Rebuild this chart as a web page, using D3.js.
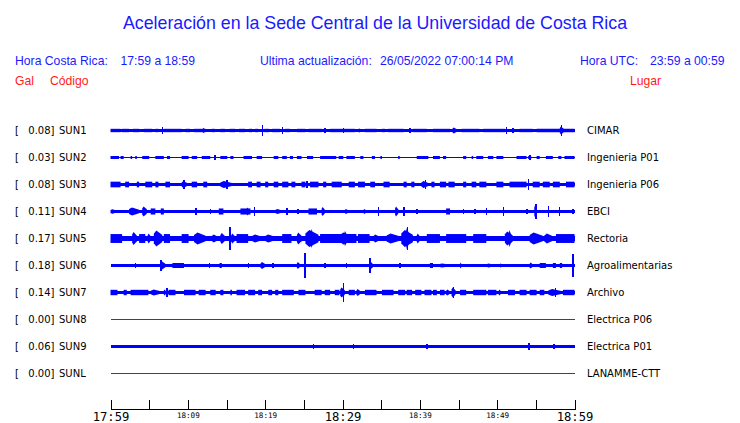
<!DOCTYPE html>
<html><head><meta charset="utf-8">
<script src="https://cdn.jsdelivr.net/npm/d3@7"></script>
<style>
html,body{margin:0;padding:0;background:#fff;}
svg{display:block;}
</style>
</head><body>
<svg id="chart" width="740" height="423"></svg>
<script>
// ---------- DATA ----------
const codes  = ["SUN1","SUN2","SUN3","SUN4","SUN5","SUN6","SUN7","SUN8","SUN9","SUNL"];
const places = ["CIMAR","Ingenieria P01","Ingenieria P06","EBCI","Rectoria","Agroalimentarias","Archivo","Electrica P06","Electrica P01","LANAMME-CTT"];
const peakGal = [0.08,0.03,0.08,0.11,0.17,0.18,0.14,0.00,0.06,0.00];
// background noise level (half amplitude, gal) and typical burst level
const baseGal  = [0.015,0.006,0.028,0.027,0.044,0.025,0.024,0,0.024,0];
const blockGal = [0.025,0.022,0.042,0.045,0.066,0.037,0.040,0,0.030,0];

// bursts: [start minute, end minute, half amplitude gal (optional)]
const sun1Bursts = [[0,1.3],[1.5,2.4],[2.9,3.7],[4.3,5.4],[5.8,6.2],[6.9,9.2],[9.7,10.3],[10.8,12.3],[11.9,12.3,0.037],[13.1,13.5],[14.2,14.8],[15.4,16.1],[16.6,17.4],[17.9,18.3],[18.7,19.1],[19.9,20.5],[20.9,21.9],[22.6,23.2],[24.1,25.2],[25.6,27.3],[28.4,31.6],[32,32.5,0.03],[32.9,34.4],[35.1,35.5],[35.9,37.9],[39.1,40.9],[41.7,43.9],[44.2,44.8,0.044],[45.4,47.7],[48.2,51],[52.9,54.6],[55.1,60],[58.1,58.6,0.06]];
const sun2Bursts = [[0,1.1],[1.3,1.7],[2.6,2.8],[3.2,3.4],[4.1,5],[5.8,6.9],[7.3,7.7],[9.2,10.1],[10.5,11.2],[11.8,12.9],[14.2,15.1],[15.5,15.9],[17.2,18.3],[18.9,19.6],[21.1,21.7],[22.2,22.8],[23.2,23.6],[24.1,24.7],[25.4,26.2],[27.1,29.2],[29.5,30.1],[30.5,31.6],[32.3,32.7],[33.8,34.2],[34.9,35.1],[37.2,37.4],[39.6,41.1],[41.7,42.6],[43,43.4],[45.6,46],[46.7,46.9],[47.3,48.2],[48.8,49.5],[49.9,50.8],[52.5,53.8],[54,54.4],[55.1,55.5],[56.3,57.2],[57.9,58.3],[58.7,60]];
const sun3Bursts = [[0,1.3],[1.9,2.4],[3.4,3.7],[4.5,5.4],[5.8,6.2],[7.1,7.7],[9.2,9.9,0.052],[10.5,11.2],[12,12.5],[14.2,15.7,0.052],[17.8,18.3],[18.9,19.4],[20,20.4],[21.1,21.7],[22.2,23],[23.4,23.9],[24.7,25.2],[25.8,26.9],[27.5,27.9],[28.6,29.9],[30.8,31.6],[32,32.9],[33.6,34.2],[35.3,36.1],[37.9,38.3],[38.9,39.3],[40.2,41.1,0.052],[41.5,41.9],[42.6,43.4],[43.7,44.5],[45.6,46],[46.7,47.3],[47.7,48.6],[49.9,50.8],[51.6,53.8],[54.6,55.5],[55.9,56.8],[57.2,58.1],[58.9,60]];
const sun4Bursts = [[0,0.8,0.035],[2.4,3.7,0.06],[4.1,4.7,0.075],[5.2,5.8],[6.5,6.9],[14,14.6],[16.8,18.1],[17.6,17.9,0.06],[21.3,22.2,0.037],[25.6,26.7],[27.3,27.7,0.067],[30.3,30.8,0.037],[32.7,33.1,0.037],[36.8,37.2,0.075],[43.4,43.9],[54.8,55.1,0.09]];
const sun5Bursts = [[0,1.5],[2.8,3.4,0.096],[3.7,4.5],[4.8,5.2,0.074],[5.6,6.7,0.118],[6.9,7.7],[9.2,10.1],[10.8,12.3,0.089],[13.1,13.9,0.06],[14.2,14.8,0.082],[15.6,16.1,0.074],[16.3,17.8],[18.3,19.6,0.06],[20,21.3,0.06],[22.2,23.4],[24.1,24.7,0.089],[25.2,26.9,0.126],[25.9,26.2,0.14],[27.1,31.8],[29.7,31,0.089],[30.2,30.6,0.11],[32,33.5],[34,34.8,0.06],[35.7,37.4,0.074],[37.6,39.1,0.126],[38.2,38.6,0.16],[39.6,40,0.074],[40.9,42.6],[43.4,46],[46.9,48.6],[51,52,0.104],[51.5,51.8,0.126],[54.2,55.9,0.089],[56.1,57.2,0.074],[57.6,60]];
const sun6Bursts = [[6.5,7.1,0.06],[8,9.5],[14.1,14.4],[19.4,20,0.052],[24.1,24.5,0.052],[33.5,33.9,0.06],[41.3,41.7],[42.4,43.9,0.03],[45.2,45.4,0.045],[48.6,49.5,0.03],[50.3,50.7,0.03],[54.2,54.6,0.045],[55.5,56.3],[57.2,57.6],[58.1,58.4]];
const sun7Bursts = [[0,0.9],[1.7,2.1],[2.6,4.9],[5.2,6.5,0.045],[6.9,7.1],[7.5,8.4],[9.5,11],[11.4,12.3],[12.9,13.6],[14.2,14.6],[15.5,15.7],[16.3,17.4],[17.8,18.7],[19.1,19.6],[20.4,20.9],[21.3,21.7],[22.2,23.7],[24.3,25.2],[26.4,27.3],[27.7,28.4],[29,29.6],[29.7,30.3,0.074],[30.8,31.6],[31.8,32.3,0.052],[32.9,34.4],[35.1,36.6],[37.2,38.1],[38.3,39],[39.4,40.2],[40.6,41.5],[41.7,42.2],[42.6,43.2],[43.4,43.9,0.045],[44.1,44.6,0.075],[45.2,46],[46.9,48.6],[48.8,49.9],[50.2,50.5,0.045],[51.4,52.3],[52.9,53.8],[54.2,55.1],[55.5,56.1],[56.6,58.3,0.052],[58.5,60]];
const sun8Bursts = [];
const sun9Bursts = [];
const sunLBursts = [];

// single spikes: [minute, half amplitude gal]
const sun1Spikes = [[6.7,0.049],[19.6,0.08],[22.2,0.049],[27.7,0.037],[30.1,0.044],[38.7,0.044],[51.2,0.049],[52,0.037],[58.3,0.08]];
const sun2Spikes = [[13.5,0.03],[54.2,0.03]];
const sun3Spikes = [[9.5,0.06],[15,0.065],[25.4,0.055],[40.7,0.06],[54,0.08]];
const sun4Spikes = [[11,0.052],[12.9,0.037],[18.6,0.074],[22.8,0.045],[24.2,0.037],[34.6,0.06],[37.9,0.06],[39.6,0.037],[45.6,0.037],[47.1,0.037],[48.6,0.045],[50.8,0.06],[53.8,0.037],[55,0.11],[56.6,0.075],[58,0.06],[59.8,0.037]];
const sun5Spikes = [[15.4,0.17],[38.4,0.17]];
const sun6Spikes = [[3.2,0.037],[6.5,0.086],[12.8,0.037],[17.8,0.03],[21,0.037],[25.1,0.178],[27.7,0.037],[30.5,0.03],[33.5,0.11],[37.4,0.037],[59.8,0.17]];
const sun7Spikes = [[7.3,0.06],[30.1,0.14],[44.3,0.082],[57.5,0.06]];
const sun8Spikes = [];
const sun9Spikes = [[26.2,0.03],[31.4,0.03],[40.9,0.04],[54.1,0.045],[57.3,0.03]];
const sunLSpikes = [];

const tickMinutes = [0,5,10,15,20,25,30,35,40,45,50,55,60];
const tickLabels  = ["17:59","18:09","18:19","18:29","18:39","18:49","18:59"];
const majorLabels = ["17:59","18:29","18:59"];

// ---------- CHART ----------
const bursts = [sun1Bursts,sun2Bursts,sun3Bursts,sun4Bursts,sun5Bursts,sun6Bursts,sun7Bursts,sun8Bursts,sun9Bursts,sunLBursts];
const spikes = [sun1Spikes,sun2Spikes,sun3Spikes,sun4Spikes,sun5Spikes,sun6Spikes,sun7Spikes,sun8Spikes,sun9Spikes,sunLSpikes];

const svg = d3.select("#chart");
const BLUE = "#0000ff", TXTBLUE = "#1a1aff", RED = "#ff1a1a";

const x = d3.scaleLinear().domain([0,60]).range([110.5,574.5]);
const row = d3.scaleBand().domain(codes).range([117,387]);
const amp = d3.scaleLinear().domain([0,0.2]).range([0,13.5]);
const yc = c => row(c) + row.bandwidth()/2;

// title + header
svg.append("text").attr("x",375).attr("y",29).attr("text-anchor","middle")
  .attr("font-family","Liberation Sans, Arial, sans-serif").attr("font-size",17.8)
  .attr("fill",TXTBLUE).text("Aceleración en la Sede Central de la Universidad de Costa Rica");

const hdr = [
  {t:"Hora Costa Rica:",x:15,y:65,c:TXTBLUE},
  {t:"17:59 a 18:59",x:120.5,y:65,c:TXTBLUE},
  {t:"Ultima actualización:",x:260,y:65,c:TXTBLUE},
  {t:"26/05/2022 07:00:14 PM",x:380,y:65,c:TXTBLUE},
  {t:"Hora UTC:",x:580,y:65,c:TXTBLUE},
  {t:"23:59 a 00:59",x:650,y:65,c:TXTBLUE},
  {t:"Gal",x:15,y:85,c:RED},
  {t:"Código",x:50,y:85,c:RED},
  {t:"Lugar",x:630,y:85,c:RED}
];
svg.selectAll("text.hdr").data(hdr).join("text").attr("class","hdr")
  .attr("x",d=>d.x).attr("y",d=>d.y).attr("fill",d=>d.c)
  .attr("font-family","Liberation Sans, Arial, sans-serif").attr("font-size",12.2)
  .text(d=>d.t);

// row labels
const lab = svg.append("g").attr("font-family","DejaVu Sans, sans-serif").attr("font-size",10).attr("fill","#000");
codes.forEach((c,i)=>{
  const y = yc(c)+3.6;
  lab.append("text").attr("x",15).attr("y",y).text("[");
  lab.append("text").attr("x",54.5).attr("y",y).attr("text-anchor","end").text(d3.format(".2f")(peakGal[i])+"]");
  lab.append("text").attr("x",59).attr("y",y).text(c);
  lab.append("text").attr("x",587).attr("y",y).text(places[i]);
});

// burst outline: sharp onset, peak, then decay (seismic envelope)
function burstPath(d, cy, defAmp){
  const a = amp(d[2]!==undefined?d[2]:defAmp);
  const x0 = x(d[0]), x1 = Math.max(x(d[1]), x0+1);
  if (d[2]===undefined) {
    return `M${x0},${cy-a}H${x1}V${cy+a}H${x0}Z`;
  }
  const xp = x0 + (x1-x0)*0.3;
  const ae = Math.max(a*0.45, 1);
  return `M${x0},${cy-a*0.6}L${xp},${cy-a}L${x1},${cy-ae}V${cy+ae}L${xp},${cy+a}L${x0},${cy+a*0.6}Z`;
}

// traces
const tr = svg.append("g");
codes.forEach((c,i)=>{
  const cy = yc(c);
  const g = tr.append("g");
  if (peakGal[i] === 0) {
    g.append("line").attr("x1",x(0)).attr("x2",x(60)).attr("y1",cy).attr("y2",cy)
      .attr("stroke","#e00000").attr("stroke-width",1).attr("shape-rendering","crispEdges");
    return;
  }
  g.append("rect").attr("x",x(0)).attr("width",x(60)-x(0)).attr("shape-rendering","crispEdges")
    .attr("y",cy-Math.max(0.5,amp(baseGal[i]))).attr("height",Math.max(1,2*amp(baseGal[i]))).attr("fill",BLUE);
  g.selectAll("path.b").data(bursts[i]).join("path").attr("class","b")
    .attr("d",d=>burstPath(d,cy,blockGal[i])).attr("fill",BLUE);
  g.selectAll("rect.s").data(spikes[i]).join("rect").attr("class","s").attr("shape-rendering","crispEdges")
    .attr("x",d=>x(d[0])-0.5).attr("width",1.5)
    .attr("y",d=>cy-amp(d[1])).attr("height",d=>2*amp(d[1])).attr("fill",BLUE);
});

// time axis
const ax = svg.append("g").attr("shape-rendering","crispEdges");
ax.append("line").attr("x1",x(0)).attr("x2",x(60)+0.5).attr("y1",409.5).attr("y2",409.5).attr("stroke","#000");
ax.selectAll("line.t").data(tickMinutes).join("line").attr("class","t")
  .attr("x1",d=>Math.round(x(d))+0.5).attr("x2",d=>Math.round(x(d))+0.5)
  .attr("y1",400).attr("y2",409.5).attr("stroke","#000");
svg.selectAll("text.tl").data(tickLabels).join("text").attr("class","tl")
  .attr("x",(d,i)=>x(i*10)+0.5)
  .attr("y",d=>majorLabels.includes(d)?420.5:417.5)
  .attr("text-anchor","middle")
  .attr("font-family","DejaVu Sans Mono, monospace")
  .attr("font-size",d=>majorLabels.includes(d)?12.2:7.6)
  .attr("fill","#000")
  .text(d=>d);
</script>
</body></html>
